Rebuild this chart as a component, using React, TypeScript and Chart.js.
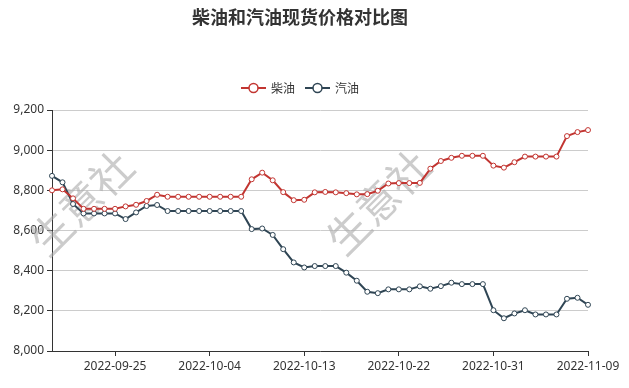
import React, { useEffect, useRef } from "react";
import { Chart, registerables } from "chart.js";

Chart.register(...registerables);

const TITLE = "柴油和汽油现货价格对比图";
const SERIES_NAMES = ["柴油", "汽油"];
const SERIES_COLORS = ["#c23531", "#2f4554"];
const WATERMARK = "生意社";

const dates = [
  "2022-09-19", "2022-09-20", "2022-09-21", "2022-09-22", "2022-09-23", "2022-09-24",
  "2022-09-25", "2022-09-26", "2022-09-27", "2022-09-28", "2022-09-29", "2022-09-30",
  "2022-10-01", "2022-10-02", "2022-10-03", "2022-10-04", "2022-10-05", "2022-10-06",
  "2022-10-07", "2022-10-08", "2022-10-09", "2022-10-10", "2022-10-11", "2022-10-12",
  "2022-10-13", "2022-10-14", "2022-10-15", "2022-10-16", "2022-10-17", "2022-10-18",
  "2022-10-19", "2022-10-20", "2022-10-21", "2022-10-22", "2022-10-23", "2022-10-24",
  "2022-10-25", "2022-10-26", "2022-10-27", "2022-10-28", "2022-10-29", "2022-10-30",
  "2022-10-31", "2022-11-01", "2022-11-02", "2022-11-03", "2022-11-04", "2022-11-05",
  "2022-11-06", "2022-11-07", "2022-11-08", "2022-11-09",
];

const diesel = [
  8800, 8805, 8760, 8708, 8708, 8708, 8708, 8720, 8728, 8747, 8778, 8768,
  8768, 8768, 8768, 8768, 8768, 8768, 8768, 8855, 8888, 8850, 8791, 8751,
  8753, 8790, 8792, 8790, 8786, 8780, 8781, 8798, 8834, 8836, 8836, 8837,
  8908, 8946, 8962, 8972, 8972, 8972, 8923, 8913, 8940, 8968, 8968, 8968,
  8968, 9070, 9090, 9100,
];

const gasoline = [
  8872, 8840, 8732, 8685, 8685, 8685, 8685, 8657, 8690, 8722, 8727, 8697,
  8697, 8697, 8697, 8697, 8697, 8697, 8697, 8607, 8610, 8578, 8507, 8441,
  8416, 8423, 8423, 8423, 8390, 8350, 8295, 8288, 8307, 8307, 8307, 8322,
  8310, 8323, 8340, 8333, 8333, 8333, 8203, 8163, 8187, 8203, 8182, 8182,
  8182, 8260, 8265, 8230,
];

const Y_MIN = 8000;
const Y_MAX = 9200;
const Y_STEP = 200;

const FONT = '"Noto Sans", "Noto Sans CJK SC", sans-serif';
const CJK_FONT = '"Noto Sans CJK SC", "Noto Sans", sans-serif';

const decorPlugin = {
  id: "decor",
  beforeDatasetsDraw(chart: any) {
    const ctx = chart.ctx;
    ctx.save();
    ctx.fillStyle = "rgba(170,170,170,0.6)";
    ctx.font = `42px ${CJK_FONT}`;
    ctx.textAlign = "center";
    ctx.textBaseline = "middle";
    const spots = [
      [81, 203],
      [378, 202],
    ];
    for (const [x, y] of spots) {
      ctx.save();
      ctx.translate(x, y);
      ctx.rotate(-Math.PI / 4);
      ctx.fillText(WATERMARK, 0, 0);
      ctx.restore();
    }
    ctx.restore();
  },
  afterDraw(chart: any) {
    const ctx = chart.ctx;
    ctx.save();
    ctx.fillStyle = "#333";
    ctx.font = `bold 18px ${CJK_FONT}`;
    ctx.textAlign = "center";
    ctx.textBaseline = "middle";
    ctx.fillText(TITLE, 300, 17);
    const items = [
      { icon: 241, text: 271 },
      { icon: 305, text: 335 },
    ];
    const ly = 88;
    items.forEach((it, i) => {
      const c = SERIES_COLORS[i];
      ctx.strokeStyle = c;
      ctx.lineWidth = 2;
      ctx.beginPath();
      ctx.moveTo(it.icon, ly);
      ctx.lineTo(it.icon + 25, ly);
      ctx.stroke();
      ctx.beginPath();
      ctx.arc(it.icon + 12.5, ly, 4.5, 0, Math.PI * 2);
      ctx.fillStyle = "#fff";
      ctx.fill();
      ctx.lineWidth = 1.5;
      ctx.stroke();
      ctx.fillStyle = "#333";
      ctx.font = `12px ${CJK_FONT}`;
      ctx.textAlign = "left";
      ctx.textBaseline = "middle";
      ctx.fillText(SERIES_NAMES[i], it.text, ly);
    });
    ctx.restore();
  },
};

export default function App() {
  const ref = useRef<HTMLCanvasElement | null>(null);

  useEffect(() => {
    document.body.style.margin = "0";
    if (!ref.current) return;
    const mk = (name: string, data: number[], color: string) => ({
      label: name,
      data,
      borderColor: color,
      backgroundColor: "#fff",
      borderWidth: 2,
      pointRadius: 2.5,
      pointBorderWidth: 1,
      pointBackgroundColor: "#fff",
      pointBorderColor: color,
      tension: 0,
    });
    const chart = new Chart(ref.current, {
      type: "line",
      data: {
        labels: dates,
        datasets: [
          mk(SERIES_NAMES[0], diesel, SERIES_COLORS[0]),
          mk(SERIES_NAMES[1], gasoline, SERIES_COLORS[1]),
        ],
      },
      plugins: [decorPlugin],
      options: {
        responsive: false,
        animation: false,
        layout: { padding: { top: 110, right: 41, left: 0, bottom: 0 } },
        plugins: {
          legend: { display: false },
          title: { display: false },
          tooltip: { enabled: false },
        },
        scales: {
          x: {
            type: "category",
            offset: false,
            border: { display: true, color: "#333", width: 1 },
            grid: {
              display: true,
              drawOnChartArea: false,
              drawTicks: true,
              tickLength: 5,
              color: "#333",
              tickColor: "#333",
            },
            ticks: {
              autoSkip: false,
              maxRotation: 0,
              minRotation: 0,
              padding: 3,
              color: "#333",
              font: { family: FONT, size: 12 },
              callback: (_v: any, index: number) =>
                index % 9 === 6 ? dates[index] : null,
            },
            afterFit: (scale: any) => {
              scale.height = 37;
            },
          },
          y: {
            min: Y_MIN,
            max: Y_MAX,
            border: { display: true, color: "#333", width: 1 },
            grid: {
              color: "#ccc",
              tickColor: "#333",
              tickLength: 5,
            },
            ticks: {
              stepSize: Y_STEP,
              padding: 3,
              color: "#333",
              font: { family: FONT, size: 12 },
              callback: (v: any) => Number(v).toLocaleString("en-US"),
            },
            afterFit: (scale: any) => {
              scale.width = 52;
            },
          },
        },
      },
    } as any);
    return () => chart.destroy();
  }, []);

  return (
    <div style={{ width: 629, height: 388 }}>
      <canvas ref={ref} width={629} height={388} style={{ display: "block" }} />
    </div>
  );
}
